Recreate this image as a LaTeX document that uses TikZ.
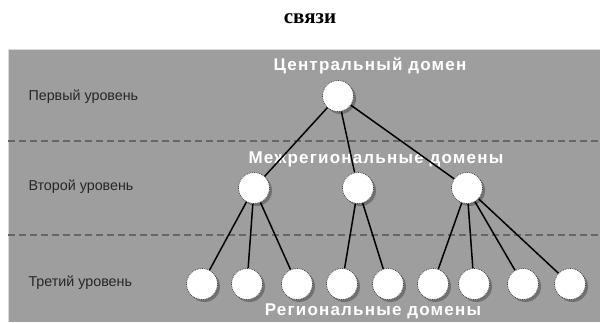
\documentclass[tikz,border=0pt]{standalone}
\usepackage{fontspec}
\setmainfont{Liberation Sans}
\newfontfamily\titlefont{Liberation Serif}
\newfontfamily\boldlab[LetterSpace=7]{Liberation Sans}
\usetikzlibrary{shadows}
\definecolor{bggray}{HTML}{9E9E9E}
\tikzset{
  dom/.style={circle, fill=white, draw=black!75, densely dotted, line width=0.8pt, minimum size=31pt, inner sep=0pt,
    drop shadow={shadow xshift=2.5pt, shadow yshift=-2.5pt, fill=black!60, opacity=0.8}},
  lvl/.style={anchor=west, font=\fontsize{14.3}{16}\selectfont, text=black!85},
  wlab/.style={font=\boldlab\bfseries\fontsize{17}{19}\selectfont, text=white},
  link/.style={line width=1.5pt, black},
  sep/.style={dashed, dash pattern=on 7pt off 4pt, line width=1.1pt, black!60}
}
\begin{document}
\begin{tikzpicture}[x=1pt,y=-1pt]
\useasboundingbox (0,0) rectangle (600,322);
\fill[white] (0,0) rectangle (600,322);
\fill[bggray] (8,49) rectangle (600,322);
\draw[black!15, line width=0.8pt] (8,322) -- (8,49) -- (600,49);
\node[font=\titlefont\bfseries\fontsize{21}{23}\selectfont] (title) at (310,19) {связи};
\coordinate (s1l) at (8,141); \coordinate (s1r) at (600,141);
\coordinate (s2l) at (8,235); \coordinate (s2r) at (600,235);
\draw[sep] (s1l) -- (s1r);
\draw[sep] (s2l) -- (s2r);
\node[lvl] (l1) at (25,97) {Первый уровень};
\node[lvl] (l2) at (25,187) {Второй уровень};
\node[lvl] (l3) at (25,283) {Третий уровень};
\node[wlab] (w1) at (370,66) {Центральный домен};
\node[wlab] (w2) at (376,159) {Межрегиональные домены};
\node[wlab] (w3) at (373,311) {Региональные домены};
\node[dom] (c) at (338,96) {};
\node[dom] (a) at (254,188) {};
\node[dom] (b) at (358,188) {};
\node[dom] (d) at (467,188) {};
\foreach \n/\x in {r1/202,r2/247,r3/297,r4/342,r5/388,r6/433,r7/474,r8/523,r9/570}
  \node[dom] (\n) at (\x,284) {};
\draw[link] (c) -- (a);
\draw[link] (c) -- (b);
\draw[link] (c) -- (d);
\draw[link] (a) -- (r1);
\draw[link] (a) -- (r2);
\draw[link] (a) -- (r3);
\draw[link] (b) -- (r4);
\draw[link] (b) -- (r5);
\draw[link] (d) -- (r6);
\draw[link] (d) -- (r7);
\draw[link] (d) -- (r8);
\draw[link] (d) -- (r9);
\end{tikzpicture}
\end{document}
